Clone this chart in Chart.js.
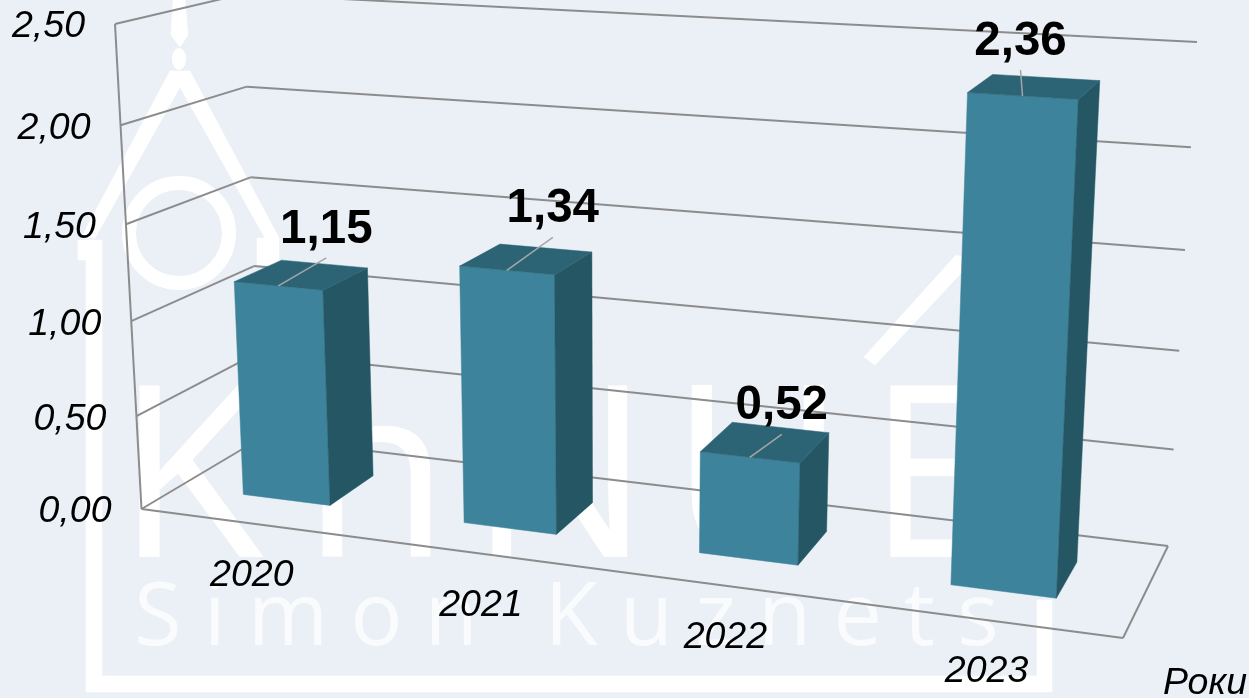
<!DOCTYPE html>
<html>
<head>
<meta charset="utf-8">
<style>
  html, body { margin: 0; padding: 0; background: #ebf0f7; overflow: hidden; }
  canvas { display: block; }
</style>
<script src="https://cdn.jsdelivr.net/npm/chart.js@4"></script>
</head>
<body>
<canvas id="myChart" width="1249" height="698"></canvas>
<script>
const years = ['2020', '2021', '2022', '2023'];
const values = [1.15, 1.34, 0.52, 2.36];
const valueLabels = ['1,15', '1,34', '0,52', '2,36'];
const yTickLabels = ['0,00', '0,50', '1,00', '1,50', '2,00', '2,50'];
const axisTitle = 'Роки';

// corners of the 3d box the chart sits in: [w][u][v], w = depth, u = along x, v = up
const box = [
  [[[141.5, 509], [115, 24]], [[1123, 638], [1150, 88]]],
  [[[261, 438], [243, -6]], [[1168, 546], [1197, 42]]]
];
const perspectiveX = 1.14, perspectiveY = 1.055;
const barFront = 0.32, barBack = 0.72;
// where each value label's leader line ends, relative to the bar top
const leaderShift = [[48, -28], [46, -33], [32, -23], [-2, -26]];

const logoLetters = ['K', 'h', 'N', 'U', 'E'];
const logoX = [116, 302, 469, 670, 867];

function mix(a, b, t) { return [a[0] + (b[0] - a[0]) * t, a[1] + (b[1] - a[1]) * t]; }
function warp(t, k) { return t / (t + k * (1 - t)); }

function corner(u, v, w) {
  const f = warp(u, perspectiveX), g = warp(v, perspectiveY);
  const near = mix(mix(box[0][0][0], box[0][0][1], g), mix(box[0][1][0], box[0][1][1], g), f);
  const far = mix(mix(box[1][0][0], box[1][0][1], g), mix(box[1][1][0], box[1][1][1], g), f);
  return mix(near, far, w);
}

// scale pixels -> picture pixels
function project(chart, px, py, w) {
  const a = chart.chartArea;
  return corner((px - a.left) / a.width, (a.bottom - py) / a.height, w);
}

function poly(ctx, pts, color) {
  ctx.beginPath();
  pts.forEach((p, i) => i ? ctx.lineTo(p[0], p[1]) : ctx.moveTo(p[0], p[1]));
  ctx.closePath();
  ctx.fillStyle = color;
  ctx.fill();
  ctx.strokeStyle = color;
  ctx.lineWidth = 0.5;
  ctx.stroke();
}

function line(ctx, a, b) {
  ctx.beginPath();
  ctx.moveTo(a[0], a[1]);
  ctx.lineTo(b[0], b[1]);
  ctx.stroke();
}

function drawWatermark(ctx) {
  ctx.save();
  const white = '#ffffff';
  // frame
  poly(ctx, [[86, 258], [102, 258], [102, 676], [1037, 676], [1037, 600], [1052, 600], [1052, 692], [86, 692]], white);
  // roof
  poly(ctx, [[81, 238], [170, 71], [190, 71], [279, 238], [265, 238], [180, 87], [95, 238]], white);
  poly(ctx, [[78, 240], [102, 240], [102, 260], [78, 260]], white);
  poly(ctx, [[257, 238], [279, 238], [279, 265], [257, 265]], white);
  poly(ctx, [[864, 357], [956, 255], [966, 258], [966, 268], [875, 365]], white);
  // spire and ring
  poly(ctx, [[173, 0], [185, 0], [188, 35], [180, 47], [171, 35]], white);
  ctx.fillStyle = white;
  ctx.strokeStyle = white;
  ctx.beginPath();
  ctx.ellipse(179, 59, 7, 11, 0, 0, Math.PI * 2);
  ctx.fill();
  ctx.beginPath();
  ctx.arc(179, 233, 50, 0, Math.PI * 2);
  ctx.lineWidth = 14;
  ctx.stroke();
  // logo text
  ctx.textAlign = 'left';
  ctx.textBaseline = 'alphabetic';
  ctx.font = '241px "Open Sans"';
  logoLetters.forEach((ch, i) => ctx.fillText(ch, logoX[i], 557));
  ctx.fillStyle = 'rgba(255,255,255,0.7)';
  ctx.font = '87px "Open Sans"';
  ctx.letterSpacing = '22px';
  ctx.fillText('Simon Kuznets', 134, 645);
  ctx.restore();
}

function drawWalls(chart) {
  const ctx = chart.ctx;
  const yScale = chart.scales.y;
  const a = chart.chartArea;
  ctx.save();
  ctx.strokeStyle = '#8c8c8c';
  ctx.lineWidth = 2;
  const left = a.left, right = a.right, bottom = yScale.getPixelForValue(yScale.min);
  yScale.ticks.forEach(t => {
    const py = yScale.getPixelForValue(t.value);
    line(ctx, project(chart, left, py, 0), project(chart, left, py, 1));
    line(ctx, project(chart, left, py, 1), project(chart, right, py, 1));
  });
  line(ctx, project(chart, left, bottom, 0), project(chart, left, yScale.top, 0));
  line(ctx, project(chart, left, bottom, 0), project(chart, right, bottom, 0));
  line(ctx, project(chart, right, bottom, 0), project(chart, right, bottom, 1));
  ctx.restore();
}

function drawBars(chart) {
  const ctx = chart.ctx;
  chart.getDatasetMeta(0).data.forEach(bar => {
    const l = bar.x - bar.width / 2, r = bar.x + bar.width / 2;
    const p = (x, y, w) => project(chart, x, y, w);
    poly(ctx, [p(l, bar.y, barFront), p(r, bar.y, barFront), p(r, bar.base, barFront), p(l, bar.base, barFront)], '#3c839b');
    poly(ctx, [p(r, bar.y, barFront), p(r, bar.y, barBack), p(r, bar.base, barBack), p(r, bar.base, barFront)], '#255664');
    poly(ctx, [p(l, bar.y, barFront), p(l, bar.y, barBack), p(r, bar.y, barBack), p(r, bar.y, barFront)], '#2d6475');
  });
}

function drawLabels(chart) {
  const ctx = chart.ctx;
  const yScale = chart.scales.y;
  const xScale = chart.scales.x;
  ctx.save();
  ctx.fillStyle = '#000';
  ctx.textBaseline = 'middle';

  ctx.font = 'italic 37.5px "Liberation Sans"';
  ctx.textAlign = 'right';
  yScale.ticks.forEach(t => {
    const p = project(chart, chart.chartArea.left, yScale.getPixelForValue(t.value), 0);
    ctx.fillText(t.label, p[0] - 30, p[1] + 3);
  });

  ctx.textAlign = 'center';
  xScale.ticks.forEach((t, i) => {
    const p = project(chart, xScale.getPixelForTick(i), yScale.getPixelForValue(0), 0);
    ctx.fillText(t.label, p[0] + 1, p[1] + 52);
  });
  ctx.fillText(axisTitle, 1205, 684);

  ctx.font = 'bold 47.5px "Liberation Sans"';
  chart.getDatasetMeta(0).data.forEach((bar, i) => {
    const start = project(chart, bar.x, bar.y, barFront);
    const end = [start[0] + leaderShift[i][0], start[1] + leaderShift[i][1]];
    ctx.strokeStyle = '#a6a6a6';
    ctx.lineWidth = 1.5;
    line(ctx, start, end);
    ctx.fillText(valueLabels[i], end[0], end[1] - 28);
  });
  ctx.restore();
}

const scene = {
  id: 'scene',
  beforeDatasetsDraw(chart) {
    drawWatermark(chart.ctx);
    drawWalls(chart);
    drawBars(chart);
    drawLabels(chart);
    return false;
  }
};

new Chart(document.getElementById('myChart').getContext('2d'), {
  type: 'bar',
  data: {
    labels: years,
    datasets: [{ data: values, barPercentage: 0.4, categoryPercentage: 1 }]
  },
  options: {
    responsive: false,
    animation: false,
    devicePixelRatio: 1,
    layout: { padding: 0 },
    plugins: { legend: { display: false }, tooltip: { enabled: false } },
    scales: {
      x: { display: false },
      y: {
        display: false,
        min: 0,
        max: 2.5,
        ticks: { stepSize: 0.5, callback: (v, i) => yTickLabels[i] }
      }
    }
  },
  plugins: [scene]
});
</script>
</body>
</html>
